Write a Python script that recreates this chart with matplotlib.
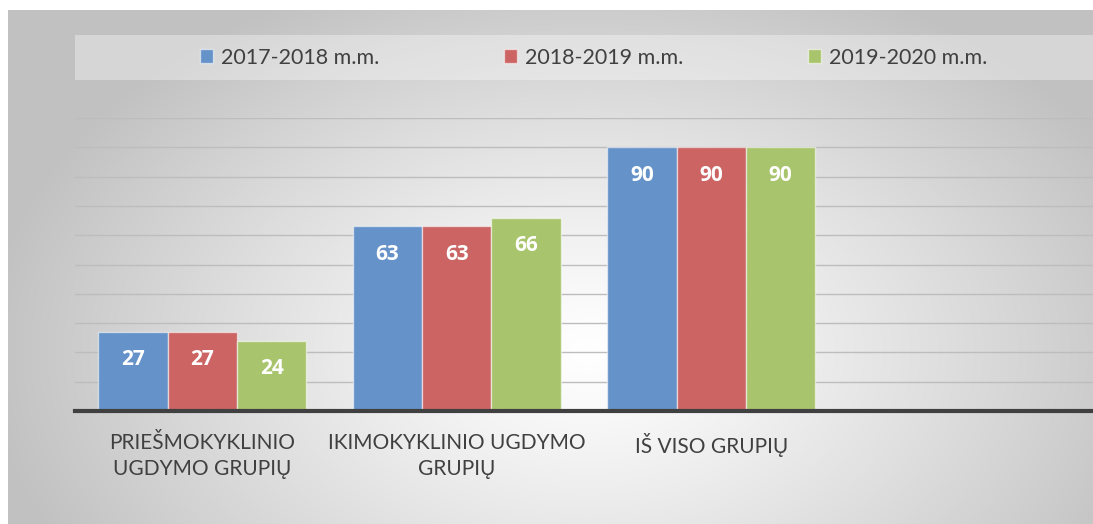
import numpy as np
import matplotlib
matplotlib.use("Agg")
import matplotlib.pyplot as plt
from matplotlib.patches import Rectangle

categories = ["PRIEŠMOKYKLINIO\nUGDYMO GRUPIŲ", "IKIMOKYKLINIO UGDYMO\nGRUPIŲ", "IŠ VISO GRUPIŲ", ""]
series_names = ["2017-2018 m.m.", "2018-2019 m.m.", "2019-2020 m.m."]
values_2017 = [27, 63, 90, np.nan]
values_2018 = [27, 63, 90, np.nan]
values_2019 = [24, 66, 90, np.nan]
colors = ["#6592C8", "#CB6463", "#A8C46C"]

W, H = 1093, 524
fig = plt.figure(figsize=(W / 100, H / 100), dpi=100)
fig.patch.set_facecolor("white")

# background radial gradient
bg = fig.add_axes([8 / W, 0, 1 - 8 / W, (H - 10) / H])
bg.set_axis_off()
yy, xx = np.mgrid[0:514, 0:1085]
cx, cy = 580, 340
d = np.sqrt(((xx - cx) / 600.0) ** 2 + ((yy - cy) / 400.0) ** 2)
d = np.clip(d, 0, 1)
v = 1.0 - 0.24 * d ** 1.2
img = np.dstack([v, v, v])
bg.imshow(img, aspect="auto", extent=[0, 1, 0, 1], origin="upper")
bg.set_xlim(0, 1)
bg.set_ylim(0, 1)

# legend band
fig.patches.append(Rectangle((75 / W, 1 - 80 / H), 1 - 75 / W, 45 / H,
                             transform=fig.transFigure, facecolor="white",
                             alpha=0.35, edgecolor="none", zorder=1))

ax = fig.add_axes([75 / W, (H - 411) / H, 1 - 75 / W, (411 - 118) / H])
ax.patch.set_alpha(0)
x = np.arange(len(categories))
bw = 0.273
all_vals = [values_2017, values_2018, values_2019]
for i, (vals, c, name) in enumerate(zip(all_vals, colors, series_names)):
    ax.bar(x + (i - 1) * bw, vals, bw, color=c, edgecolor=(1, 1, 1, 0.55),
           linewidth=1.0, label=name, zorder=3)
    for xi, val in zip(x + (i - 1) * bw, vals):
        if not np.isnan(val):
            ax.annotate(f"{val:g}", (xi, val), xytext=(0, -28), textcoords="offset pixels",
                        ha="center", va="center", color="white", fontsize=15,
                        fontweight="bold", family="Open Sans", zorder=4)

ax.set_xlim(-0.5, len(categories) - 0.5)
ax.set_ylim(0, 100)
ax.set_yticks(np.arange(0, 101, 10))
ax.set_yticklabels([])
ax.tick_params(axis="y", length=0)
ax.tick_params(axis="x", length=0, pad=16)
ax.set_xticks(x)
ax.set_xticklabels(categories, fontsize=15, color="#404040", family="Lato",
                   linespacing=1.35)
ax.grid(axis="y", color="#bdbdbd", linewidth=1.0, zorder=0)
for s in ["top", "right", "left"]:
    ax.spines[s].set_visible(False)
ax.spines["bottom"].set_color("#404040")
ax.spines["bottom"].set_linewidth(3)
ax.spines["bottom"].set_zorder(5)

leg = fig.legend(loc="center", bbox_to_anchor=(0.543, 1 - 58 / H), ncol=3, frameon=False,
                 handlelength=0.62, handleheight=0.62, handletextpad=0.35,
                 columnspacing=5.8, prop={"family": "Lato", "size": 15.5})
for t in leg.get_texts():
    t.set_color("#404040")

fig.savefig("out.png", dpi=100)
